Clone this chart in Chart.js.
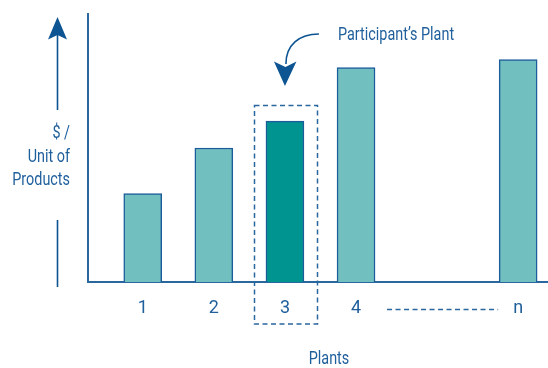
<!DOCTYPE html>
<html>
<head>
<meta charset="utf-8">
<script src="https://cdn.jsdelivr.net/npm/chart.js@4/dist/chart.umd.min.js"></script>
<style>
  html, body { margin: 0; padding: 0; background: #ffffff; }
  #wrap { width: 548px; height: 368px; position: relative; }
</style>
</head>
<body>
<div id="wrap"><canvas id="c"></canvas></div>
<script>
// Plants along the horizontal axis; the gap before "n" stands for the plants not shown
const plantLabels = ['1', '2', '3', '4', 'n'];
const plantPositions = [1, 2, 3, 4, 6.28];
// Cost per unit of product for each plant (relative units)
const costPerUnit = [33, 50, 60, 80, 83];
const participantIndex = 2;

const yTitleLines = ['$ /', 'Unit of', 'Products'];
const calloutText = 'Participant\u2019s Plant';
const xTitleText = 'Plants';

const FONT = "Roboto, 'Liberation Sans', sans-serif";
const NARROW = 0.8; // horizontal squeeze giving a condensed face
const TEXT_COLOR = '#1f5f9c';
const LINE_COLOR = '#2a679f';
const ARROW_COLOR = '#0d5592';
const BAR_FILL = '#72bfbf';
const BAR_FILL_HI = '#009490';
const BAR_EDGE = '#1b5c9b';

function narrowText(ctx, text, x, y, align) {
  ctx.save();
  ctx.translate(x, y);
  ctx.scale(NARROW, 1);
  ctx.textAlign = align;
  ctx.textBaseline = 'middle';
  ctx.fillText(text, 0, 0);
  ctx.restore();
}

const annotations = {
  id: 'annotations',
  afterDraw(chart) {
    const ctx = chart.ctx;
    const xs = chart.scales.x;
    const bars = chart.getDatasetMeta(0).data;
    ctx.save();

    // Vertical arrow beside the value axis
    ctx.strokeStyle = ARROW_COLOR;
    ctx.fillStyle = ARROW_COLOR;
    ctx.lineWidth = 1.6;
    ctx.beginPath();
    ctx.moveTo(57.5, 34);
    ctx.lineTo(57.5, 110);
    ctx.stroke();
    ctx.beginPath();
    ctx.moveTo(57.5, 17);
    ctx.lineTo(67, 39.5);
    ctx.lineTo(57.5, 35);
    ctx.lineTo(48, 39.5);
    ctx.closePath();
    ctx.fill();
    ctx.beginPath();
    ctx.moveTo(57.5, 220);
    ctx.lineTo(57.5, 287);
    ctx.stroke();

    // Value-axis title
    ctx.fillStyle = TEXT_COLOR;
    ctx.font = '18px ' + FONT;
    const yLineCenters = [133, 157, 180];
    yTitleLines.forEach((t, i) => narrowText(ctx, t, 70, yLineCenters[i], 'right'));

    // Category-axis title
    narrowText(ctx, xTitleText, 329, 359, 'center');

    // Dashed frame around the participant's bar and its label
    const hb = bars[participantIndex];
    ctx.strokeStyle = LINE_COLOR;
    ctx.lineWidth = 1.5;
    ctx.setLineDash([5, 3.5]);
    const top = Math.round(hb.y - 16) + 0.5;
    ctx.strokeRect(Math.round(hb.x - 31) + 0.5, top, 63, 324 - top);

    // Dashed run between plant 4 and plant n
    const x4 = xs.getPixelForValue(plantPositions[3]);
    const xn = xs.getPixelForValue(plantPositions[4]);
    ctx.beginPath();
    ctx.moveTo(x4 + 31, 309.5);
    ctx.lineTo(xn - 20, 309.5);
    ctx.stroke();
    ctx.setLineDash([]);

    // Curved pointer to the participant's bar
    const ax = hb.x;
    ctx.strokeStyle = ARROW_COLOR;
    ctx.fillStyle = ARROW_COLOR;
    ctx.lineWidth = 1.6;
    ctx.beginPath();
    ctx.moveTo(ax + 34, 34);
    ctx.bezierCurveTo(ax + 14, 34, ax + 1, 45, ax + 1, 64);
    ctx.stroke();
    ctx.beginPath();
    ctx.moveTo(ax, 86);
    ctx.lineTo(ax + 11.5, 61.5);
    ctx.lineTo(ax + 0.5, 67);
    ctx.lineTo(ax - 11, 61.5);
    ctx.closePath();
    ctx.fill();

    ctx.fillStyle = TEXT_COLOR;
    ctx.font = '18px ' + FONT;
    narrowText(ctx, calloutText, 338, 35, 'left');

    ctx.restore();
  }
};

new Chart(document.getElementById('c'), {
  type: 'bar',
  data: {
    datasets: [{
      data: plantPositions.map((x, i) => ({ x: x, y: costPerUnit[i] })),
      backgroundColor: (c) => c.dataIndex === participantIndex ? BAR_FILL_HI : BAR_FILL,
      borderColor: BAR_EDGE,
      borderWidth: 1.5,
      borderSkipped: 'start',
      barThickness: 38
    }]
  },
  options: {
    responsive: true,
    maintainAspectRatio: false,
    animation: false,
    layout: { padding: { left: 88, top: 14, right: 0, bottom: 0 } },
    plugins: { legend: { display: false }, tooltip: { enabled: false } },
    scales: {
      x: {
        type: 'linear',
        offset: false,
        min: 0.23,
        max: 6.7,
        grid: { display: false, drawTicks: false },
        border: { color: LINE_COLOR, width: 2 },
        afterBuildTicks: (s) => { s.ticks = plantPositions.map(v => ({ value: v })); },
        afterFit: (s) => { s.height = 86; },
        ticks: {
          autoSkip: false,
          maxRotation: 0,
          padding: 16,
          color: TEXT_COLOR,
          font: { family: FONT, size: 18 },
          callback: (v, i) => plantLabels[i]
        }
      },
      y: {
        min: 0,
        max: 100,
        grid: { display: false, drawTicks: false },
        border: { color: LINE_COLOR, width: 2 },
        ticks: { display: false }
      }
    }
  },
  plugins: [annotations]
});
</script>
</body>
</html>
